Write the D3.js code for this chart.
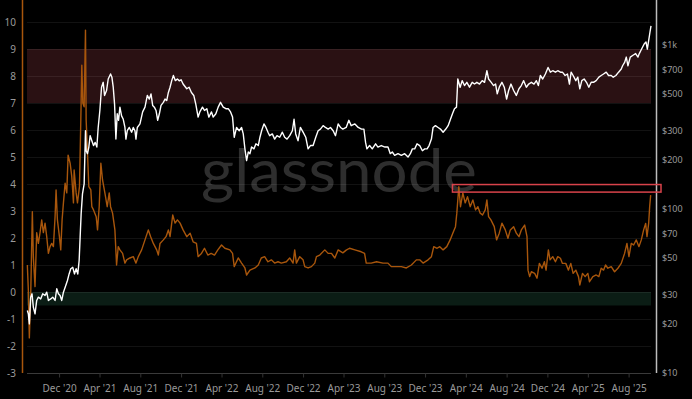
<!DOCTYPE html>
<html>
<head>
<meta charset="utf-8">
<script src="https://cdn.jsdelivr.net/npm/d3@7"></script>
<style>
  html, body { margin: 0; padding: 0; background: #000; }
  svg { display: block; }
  text { font-family: "Noto Sans", "Open Sans", sans-serif; }
</style>
</head>
<body>
<svg id="chart" width="692" height="399"></svg>
<script>
// oscillator (left axis)
const scoreData = [
  ["2020-08-28", 1.0], ["2020-08-31", 0.07], ["2020-09-03", -1.7], ["2020-09-07", -0.17],
  ["2020-09-12", 2.97], ["2020-09-15", 1.3], ["2020-09-20", 0.2], ["2020-09-25", 2.2],
  ["2020-09-30", 1.8], ["2020-10-05", 2.2], ["2020-10-10", 2.67], ["2020-10-15", 2.2],
  ["2020-10-20", 2.55], ["2020-10-25", 2.05], ["2020-10-30", 1.43], ["2020-11-04", 1.68],
  ["2020-11-09", 1.8], ["2020-11-14", 1.68], ["2020-11-19", 2.79], ["2020-11-22", 3.78],
  ["2020-11-26", 2.67], ["2020-12-02", 2.05], ["2020-12-06", 1.56], ["2020-12-10", 2.67],
  ["2020-12-14", 3.3], ["2020-12-19", 4.03], ["2020-12-24", 3.67], ["2020-12-28", 5.07],
  ["2021-01-03", 4.77], ["2021-01-08", 4.27], ["2021-01-13", 3.3], ["2021-01-15", 4.52],
  ["2021-01-21", 3.67], ["2021-01-25", 3.3], ["2021-01-31", 3.9], ["2021-02-04", 6.37],
  ["2021-02-07", 8.4], ["2021-02-10", 7.0], ["2021-02-14", 6.86], ["2021-02-18", 9.7],
  ["2021-02-20", 6.37], ["2021-02-24", 5.15], ["2021-02-28", 3.9], ["2021-03-06", 3.78],
  ["2021-03-09", 3.16], ["2021-03-14", 3.04], ["2021-03-22", 2.79], ["2021-03-26", 2.3],
  ["2021-03-31", 3.16], ["2021-04-05", 4.77], ["2021-04-10", 4.15], ["2021-04-17", 3.67],
  ["2021-04-24", 3.16], ["2021-04-30", 3.67], ["2021-05-04", 3.16], ["2021-05-10", 2.92],
  ["2021-05-17", 2.3], ["2021-05-22", 1.0], ["2021-05-27", 1.68], ["2021-06-01", 1.56],
  ["2021-06-09", 1.43], ["2021-06-16", 1.07], ["2021-06-21", 1.19], ["2021-07-01", 1.26],
  ["2021-07-11", 1.31], ["2021-07-19", 1.07], ["2021-07-26", 1.31], ["2021-08-05", 1.56],
  ["2021-08-15", 1.93], ["2021-08-25", 2.3], ["2021-09-01", 2.05], ["2021-09-09", 1.8],
  ["2021-09-19", 1.56], ["2021-09-24", 1.37], ["2021-09-29", 1.8], ["2021-10-09", 1.93],
  ["2021-10-17", 2.05], ["2021-10-24", 2.3], ["2021-10-29", 2.05], ["2021-11-06", 2.85],
  ["2021-11-13", 2.55], ["2021-11-20", 2.67], ["2021-11-28", 2.55], ["2021-12-07", 2.3],
  ["2021-12-18", 2.05], ["2021-12-28", 2.18], ["2022-01-06", 1.86], ["2022-01-16", 1.8],
  ["2022-01-21", 1.31], ["2022-01-31", 1.43], ["2022-02-09", 1.62], ["2022-02-19", 1.37],
  ["2022-03-01", 1.43], ["2022-03-11", 1.37], ["2022-03-21", 1.56], ["2022-04-01", 1.74],
  ["2022-04-11", 1.62], ["2022-04-26", 1.56], ["2022-05-04", 1.43], ["2022-05-09", 0.94],
  ["2022-05-21", 1.26], ["2022-05-31", 1.07], ["2022-06-10", 0.89], ["2022-06-15", 0.63],
  ["2022-06-25", 0.81], ["2022-07-10", 0.89], ["2022-07-20", 1.0], ["2022-07-29", 1.26],
  ["2022-08-08", 1.31], ["2022-08-18", 1.12], ["2022-08-28", 1.19], ["2022-09-07", 1.07],
  ["2022-09-17", 1.12], ["2022-09-27", 1.07], ["2022-10-12", 1.12], ["2022-10-22", 1.26],
  ["2022-11-01", 1.07], ["2022-11-06", 1.56], ["2022-11-11", 1.07], ["2022-11-21", 1.31],
  ["2022-12-01", 1.19], ["2022-12-06", 0.94], ["2022-12-16", 0.89], ["2022-12-26", 0.94],
  ["2023-01-05", 1.07], ["2023-01-10", 1.31], ["2023-01-20", 1.37], ["2023-02-04", 1.56],
  ["2023-02-14", 1.43], ["2023-02-24", 1.43], ["2023-03-06", 1.26], ["2023-03-16", 1.56],
  ["2023-03-30", 1.45], ["2023-04-09", 1.55], ["2023-04-19", 1.62], ["2023-05-05", 1.56],
  ["2023-05-24", 1.49], ["2023-06-03", 1.43], ["2023-06-08", 1.07], ["2023-06-23", 1.07],
  ["2023-07-09", 1.12], ["2023-07-28", 1.07], ["2023-08-12", 1.07], ["2023-08-22", 0.94],
  ["2023-09-06", 0.94], ["2023-09-21", 0.94], ["2023-10-06", 0.89], ["2023-10-21", 1.0],
  ["2023-11-05", 1.19], ["2023-11-15", 1.19], ["2023-11-25", 1.07], ["2023-12-10", 1.19],
  ["2023-12-20", 1.31], ["2023-12-27", 1.68], ["2024-01-06", 1.62], ["2024-01-14", 1.68],
  ["2024-01-24", 1.56], ["2024-02-04", 1.68], ["2024-02-14", 1.93], ["2024-02-22", 2.18],
  ["2024-03-01", 2.42], ["2024-03-05", 2.92], ["2024-03-11", 3.9], ["2024-03-16", 3.16],
  ["2024-03-23", 3.67], ["2024-03-30", 3.3], ["2024-04-06", 3.53], ["2024-04-14", 3.16],
  ["2024-04-22", 3.41], ["2024-04-30", 3.04], ["2024-05-07", 3.16], ["2024-05-14", 2.92],
  ["2024-05-21", 2.85], ["2024-05-29", 3.04], ["2024-06-03", 3.41], ["2024-06-08", 2.79],
  ["2024-06-15", 2.67], ["2024-06-25", 2.42], ["2024-07-02", 1.93], ["2024-07-10", 2.18],
  ["2024-07-18", 2.55], ["2024-07-28", 2.3], ["2024-08-05", 1.99], ["2024-08-12", 2.3],
  ["2024-08-22", 2.42], ["2024-08-30", 2.18], ["2024-09-07", 2.05], ["2024-09-14", 2.3],
  ["2024-09-24", 2.48], ["2024-10-01", 2.05], ["2024-10-04", 0.81], ["2024-10-09", 0.57],
  ["2024-10-14", 0.75], ["2024-10-24", 0.69], ["2024-10-31", 0.51], ["2024-11-07", 1.06],
  ["2024-11-15", 0.88], ["2024-11-22", 1.12], ["2024-11-27", 0.81], ["2024-12-04", 1.56],
  ["2024-12-09", 1.19], ["2024-12-17", 1.31], ["2024-12-25", 1.12], ["2025-01-01", 1.31],
  ["2025-01-09", 1.25], ["2025-01-15", 1.06], ["2025-01-25", 1.06], ["2025-02-02", 0.81],
  ["2025-02-09", 1.06], ["2025-02-16", 0.69], ["2025-02-24", 0.81], ["2025-03-04", 0.57],
  ["2025-03-08", 0.26], ["2025-03-16", 0.69], ["2025-03-24", 0.57], ["2025-04-01", 0.69],
  ["2025-04-06", 0.38], ["2025-04-16", 0.57], ["2025-04-26", 0.63], ["2025-05-04", 0.57],
  ["2025-05-11", 0.88], ["2025-05-18", 0.81], ["2025-05-24", 1.0], ["2025-05-31", 0.88],
  ["2025-06-10", 0.94], ["2025-06-20", 0.75], ["2025-06-30", 0.88], ["2025-07-10", 1.06],
  ["2025-07-20", 1.43], ["2025-07-27", 1.8], ["2025-08-02", 1.31], ["2025-08-09", 1.8],
  ["2025-08-16", 1.74], ["2025-08-24", 1.93], ["2025-09-01", 1.68], ["2025-09-08", 1.93],
  ["2025-09-15", 2.3], ["2025-09-21", 2.54], ["2025-09-25", 2.05], ["2025-09-30", 2.54],
  ["2025-10-03", 3.16], ["2025-10-06", 3.59]
];

// price in USD (right log axis)
const priceData = [
  ["2020-08-28", 23.9], ["2020-08-31", 22.8], ["2020-09-03", 19.8], ["2020-09-07", 28.8],
  ["2020-09-11", 30.2], ["2020-09-15", 25.0], ["2020-09-20", 22.8], ["2020-09-25", 27.5],
  ["2020-09-30", 28.8], ["2020-10-07", 28.1], ["2020-10-13", 30.2], ["2020-10-20", 29.5],
  ["2020-10-25", 30.9], ["2020-10-30", 27.5], ["2020-11-06", 28.1], ["2020-11-12", 28.8],
  ["2020-11-19", 27.5], ["2020-11-24", 32.4], ["2020-11-29", 30.2], ["2020-12-04", 29.5],
  ["2020-12-09", 27.5], ["2020-12-14", 30.9], ["2020-12-21", 33.9], ["2020-12-26", 36.4],
  ["2020-12-31", 39.9], ["2021-01-05", 42.9], ["2021-01-11", 43.8], ["2021-01-16", 39.9],
  ["2021-01-21", 42.9], ["2021-01-26", 39.9], ["2021-01-30", 48.2], ["2021-02-02", 66.9],
  ["2021-02-05", 92.9], ["2021-02-09", 122.8], ["2021-02-14", 141.5], ["2021-02-18", 298],
  ["2021-02-20", 225], ["2021-02-24", 216], ["2021-02-28", 237], ["2021-03-04", 278],
  ["2021-03-09", 259], ["2021-03-14", 242], ["2021-03-19", 253], ["2021-03-24", 237],
  ["2021-03-28", 312], ["2021-04-02", 396], ["2021-04-07", 549], ["2021-04-12", 588],
  ["2021-04-16", 489], ["2021-04-22", 524], ["2021-04-27", 616], ["2021-05-04", 661],
  ["2021-05-08", 632], ["2021-05-12", 549], ["2021-05-16", 433], ["2021-05-20", 265],
  ["2021-05-24", 378], ["2021-05-28", 345], ["2021-06-01", 415], ["2021-06-06", 367],
  ["2021-06-11", 350], ["2021-06-16", 312], ["2021-06-19", 265], ["2021-06-23", 298],
  ["2021-06-29", 312], ["2021-07-06", 292], ["2021-07-11", 312], ["2021-07-16", 298],
  ["2021-07-19", 265], ["2021-07-23", 312], ["2021-07-31", 328], ["2021-08-08", 388],
  ["2021-08-15", 415], ["2021-08-22", 489], ["2021-08-28", 465], ["2021-09-02", 500],
  ["2021-09-07", 425], ["2021-09-12", 415], ["2021-09-17", 396], ["2021-09-22", 345],
  ["2021-09-27", 378], ["2021-10-02", 425], ["2021-10-09", 444], ["2021-10-14", 465],
  ["2021-10-19", 455], ["2021-10-24", 510], ["2021-10-29", 549], ["2021-11-03", 602],
  ["2021-11-08", 647], ["2021-11-14", 602], ["2021-11-20", 616], ["2021-11-26", 600],
  ["2021-12-01", 610], ["2021-12-07", 574], ["2021-12-18", 537], ["2021-12-25", 549],
  ["2022-01-01", 510], ["2022-01-08", 489], ["2022-01-14", 433], ["2022-01-21", 361],
  ["2022-01-26", 388], ["2022-02-03", 415], ["2022-02-09", 396], ["2022-02-16", 406],
  ["2022-02-22", 361], ["2022-03-02", 388], ["2022-03-07", 361], ["2022-03-15", 378],
  ["2022-03-22", 415], ["2022-03-29", 444], ["2022-04-06", 415], ["2022-04-14", 406],
  ["2022-04-21", 406], ["2022-04-28", 388], ["2022-05-04", 361], ["2022-05-09", 272],
  ["2022-05-16", 312], ["2022-05-24", 298], ["2022-05-31", 312], ["2022-06-05", 285],
  ["2022-06-10", 231], ["2022-06-15", 196], ["2022-06-20", 221], ["2022-06-25", 216],
  ["2022-06-30", 237], ["2022-07-07", 231], ["2022-07-13", 248], ["2022-07-20", 242],
  ["2022-07-25", 272], ["2022-07-30", 298], ["2022-08-06", 328], ["2022-08-12", 312],
  ["2022-08-18", 292], ["2022-08-23", 278], ["2022-08-31", 285], ["2022-09-07", 265],
  ["2022-09-14", 278], ["2022-09-22", 272], ["2022-09-30", 292], ["2022-10-07", 272],
  ["2022-10-14", 265], ["2022-10-22", 278], ["2022-10-30", 298], ["2022-11-04", 350],
  ["2022-11-09", 285], ["2022-11-16", 259], ["2022-11-23", 312], ["2022-12-01", 292],
  ["2022-12-09", 272], ["2022-12-16", 231], ["2022-12-23", 242], ["2022-12-31", 242],
  ["2023-01-08", 272], ["2023-01-15", 298], ["2023-01-22", 305], ["2023-01-30", 320],
  ["2023-02-06", 312], ["2023-02-14", 305], ["2023-02-21", 312], ["2023-03-01", 298],
  ["2023-03-08", 278], ["2023-03-16", 328], ["2023-03-23", 312], ["2023-03-30", 305],
  ["2023-04-09", 312], ["2023-04-17", 345], ["2023-04-24", 320], ["2023-05-05", 328],
  ["2023-05-15", 312], ["2023-05-25", 305], ["2023-06-01", 305], ["2023-06-06", 253],
  ["2023-06-10", 231], ["2023-06-18", 242], ["2023-06-26", 231], ["2023-07-06", 248],
  ["2023-07-13", 237], ["2023-07-23", 242], ["2023-08-03", 237], ["2023-08-12", 237],
  ["2023-08-19", 216], ["2023-08-25", 221], ["2023-09-01", 211], ["2023-09-11", 216],
  ["2023-09-21", 211], ["2023-10-01", 216], ["2023-10-11", 206], ["2023-10-18", 216],
  ["2023-10-24", 231], ["2023-10-31", 231], ["2023-11-07", 248], ["2023-11-15", 242],
  ["2023-11-23", 225], ["2023-11-30", 231], ["2023-12-07", 231], ["2023-12-13", 242],
  ["2023-12-20", 265], ["2023-12-25", 312], ["2024-01-01", 320], ["2024-01-09", 312],
  ["2024-01-16", 305], ["2024-01-24", 292], ["2024-02-01", 305], ["2024-02-08", 320],
  ["2024-02-15", 350], ["2024-02-21", 378], ["2024-02-27", 406], ["2024-03-04", 415],
  ["2024-03-08", 616], ["2024-03-15", 549], ["2024-03-21", 602], ["2024-03-28", 562],
  ["2024-04-04", 588], ["2024-04-12", 549], ["2024-04-20", 588], ["2024-04-27", 574],
  ["2024-05-04", 588], ["2024-05-12", 574], ["2024-05-20", 602], ["2024-05-27", 588],
  ["2024-06-03", 692], ["2024-06-08", 616], ["2024-06-16", 588], ["2024-06-23", 562],
  ["2024-06-29", 574], ["2024-07-04", 500], ["2024-07-10", 549], ["2024-07-18", 588],
  ["2024-07-25", 549], ["2024-08-01", 465], ["2024-08-07", 524], ["2024-08-14", 574],
  ["2024-08-22", 524], ["2024-08-30", 489], ["2024-09-07", 537], ["2024-09-14", 562],
  ["2024-09-21", 602], ["2024-09-29", 549], ["2024-10-06", 574], ["2024-10-14", 588],
  ["2024-10-22", 574], ["2024-10-29", 602], ["2024-11-04", 562], ["2024-11-10", 647],
  ["2024-11-17", 616], ["2024-11-25", 661], ["2024-12-03", 724], ["2024-12-10", 678],
  ["2024-12-17", 692], ["2024-12-25", 678], ["2025-01-01", 692], ["2025-01-09", 678],
  ["2025-01-15", 678], ["2025-01-23", 647], ["2025-01-30", 661], ["2025-02-05", 574],
  ["2025-02-10", 678], ["2025-02-16", 647], ["2025-02-24", 602], ["2025-03-02", 632],
  ["2025-03-08", 537], ["2025-03-14", 602], ["2025-03-21", 616], ["2025-03-28", 588],
  ["2025-04-04", 549], ["2025-04-11", 588], ["2025-04-18", 588], ["2025-04-26", 602],
  ["2025-05-04", 632], ["2025-05-11", 647], ["2025-05-18", 661], ["2025-05-26", 678],
  ["2025-06-02", 647], ["2025-06-10", 647], ["2025-06-16", 632], ["2025-06-24", 647],
  ["2025-07-02", 678], ["2025-07-10", 709], ["2025-07-14", 742], ["2025-07-20", 777],
  ["2025-07-25", 838], ["2025-07-30", 742], ["2025-08-06", 838], ["2025-08-14", 860],
  ["2025-08-22", 880], ["2025-08-29", 838], ["2025-09-02", 880], ["2025-09-07", 922],
  ["2025-09-12", 966], ["2025-09-17", 1011], ["2025-09-22", 1036], ["2025-09-26", 937],
  ["2025-09-30", 1057], ["2025-10-04", 1192], ["2025-10-07", 1300]
];

const xDomain = ["2020-08-27", "2025-10-07"];
const xTicks = ["2020-12-01", "2021-04-01", "2021-08-01", "2021-12-01", "2022-04-01",
  "2022-08-01", "2022-12-01", "2023-04-01", "2023-08-01", "2023-12-01", "2024-04-01",
  "2024-08-01", "2024-12-01", "2025-04-01", "2025-08-01"];
const leftTicks = [-3, -2, -1, 0, 1, 2, 3, 4, 5, 6, 7, 8, 9, 10];
const rightTicks = [10, 20, 30, 50, 70, 100, 200, 300, 500, 700, 1000];
const rightLabels = ["$10", "$20", "$30", "$50", "$70", "$100", "$200", "$300", "$500", "$700", "$1k"];
// shaded zones on the left scale
const highZone = [7, 9];
const lowZone = [-0.5, 0];
// highlighted level (left scale) starting at this date
const markLevel = [3.7, 3.98];
const markStart = "2024-02-21";

const svg = d3.select("#chart");
const parse = d3.utcParse("%Y-%m-%d");

const x = d3.scaleUtc().domain(xDomain.map(parse)).range([27, 651]);
const yL = d3.scaleLinear().domain([-3, 10]).range([373, 22]);
const yR = d3.scaleLog().domain([10, 1000]).range([372.5, 44.5]);

// watermark
svg.append("text")
  .attr("x", 339).attr("y", 192)
  .attr("text-anchor", "middle")
  .attr("textLength", 276)
  .attr("lengthAdjust", "spacingAndGlyphs")
  .style("font-family", "Lato, sans-serif")
  .style("font-weight", 400)
  .style("font-size", "60px")
  .attr("fill", "#2e2e2e")
  .text("glassnode");

// zones
svg.append("rect")
  .attr("x", x.range()[0]).attr("width", x.range()[1] - x.range()[0])
  .attr("y", yL(highZone[1])).attr("height", yL(highZone[0]) - yL(highZone[1]))
  .attr("fill", "#2c1214").attr("fill-opacity", 0.95);
svg.append("rect")
  .attr("x", x.range()[0]).attr("width", x.range()[1] - x.range()[0])
  .attr("y", yL(lowZone[1])).attr("height", yL(lowZone[0]) - yL(lowZone[1]))
  .attr("fill", "#0b1d15");

// grid
svg.append("g")
  .selectAll("line")
  .data(leftTicks.filter(d => d > -3))
  .enter().append("line")
  .attr("x1", 27).attr("x2", 651)
  .attr("y1", d => Math.round(yL(d)) + 0.5).attr("y2", d => Math.round(yL(d)) + 0.5)
  .attr("stroke", "#ffffff").attr("stroke-opacity", 0.07);

// bottom axis
const xAxis = d3.axisBottom(x)
  .tickValues(xTicks.map(parse))
  .tickFormat(d3.utcFormat("%b '%y"))
  .tickSize(4).tickPadding(7);
const gx = svg.append("g").attr("transform", "translate(0,373.5)").call(xAxis);
gx.select(".domain").attr("d", "M27,0H651").attr("stroke", "#3a3a3a");
gx.selectAll(".tick line").attr("stroke", "#333");
gx.selectAll(".tick text").attr("fill", "#9a9a9a").style("font-size", "10px");

// left axis labels
svg.append("g")
  .selectAll("text")
  .data(leftTicks)
  .enter().append("text")
  .attr("x", 16).attr("y", d => yL(d))
  .attr("text-anchor", "end").attr("dominant-baseline", "central")
  .attr("fill", "#9a9a9a").style("font-size", "10px")
  .text(d => d);

// right axis labels
svg.append("g")
  .selectAll("text")
  .data(rightTicks)
  .enter().append("text")
  .attr("x", 662).attr("y", d => yR(d))
  .attr("dominant-baseline", "central")
  .attr("fill", "#9a9a9a").style("font-size", "9px")
  .text((d, i) => rightLabels[i]);

// axis lines
svg.append("line").attr("x1", 22.5).attr("x2", 22.5).attr("y1", 0).attr("y2", 373)
  .attr("stroke", "#a8560c").attr("stroke-width", 1.5);
svg.append("line").attr("x1", 656.5).attr("x2", 656.5).attr("y1", 0).attr("y2", 373)
  .attr("stroke", "#bdbdbd").attr("stroke-width", 1.5);

// series
const scoreLine = d3.line().x(d => x(parse(d[0]))).y(d => yL(d[1]));
const priceLine = d3.line().x(d => x(parse(d[0]))).y(d => yR(d[1]));

svg.append("path").datum(scoreData)
  .attr("d", scoreLine)
  .attr("fill", "none").attr("stroke", "#a8560c").attr("stroke-width", 1.4)
  .attr("stroke-linejoin", "round");

svg.append("path").datum(priceData)
  .attr("d", priceLine)
  .attr("fill", "none").attr("stroke", "#ffffff").attr("stroke-width", 1.4)
  .attr("stroke-linejoin", "round");

// highlight box
svg.append("rect")
  .attr("x", x(parse(markStart)))
  .attr("y", yL(markLevel[1]))
  .attr("width", 661 - x(parse(markStart)))
  .attr("height", yL(markLevel[0]) - yL(markLevel[1]))
  .attr("fill", "none").attr("stroke", "#d9434b").attr("stroke-width", 1.5);
</script>
</body>
</html>
